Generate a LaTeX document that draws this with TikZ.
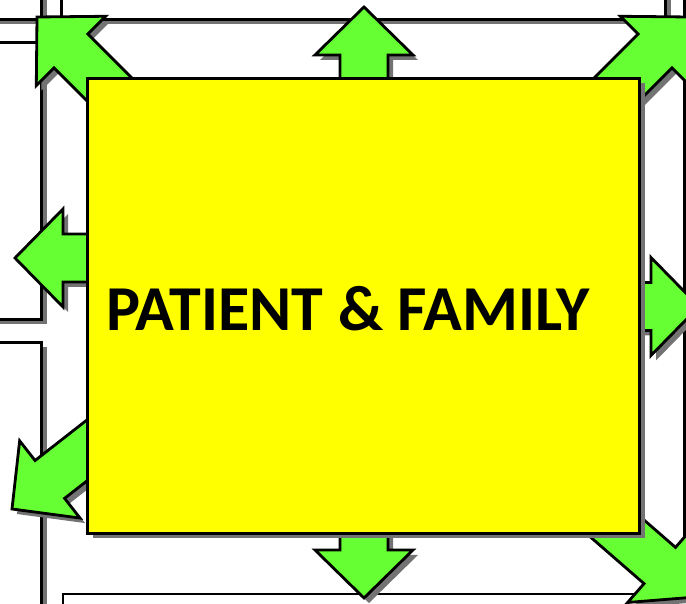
\documentclass[tikz,border=0pt]{standalone}
\usepackage{fontspec}
\setsansfont{Carlito}
\usepackage{tikz}
\usetikzlibrary{shadows}
\definecolor{arrgreen}{RGB}{102,255,51}
\definecolor{coreyellow}{RGB}{255,255,0}

\begin{document}
\begin{tikzpicture}[
  x=1pt, y=1pt,
  shade5/.style={drop shadow={shadow xshift=5pt, shadow yshift=-5pt, fill=black!55, opacity=1}},
  panel/.style={draw, fill=white, line width=2.8pt, shade5},
  core/.style={draw, fill=coreyellow, line width=3pt, minimum width=552pt, minimum height=455pt, inner sep=0pt, shade5},
  caption/.style={font=\sffamily\bfseries\fontsize{64pt}{72pt}\selectfont, inner sep=0pt},
  arrfill/.style={draw, fill=arrgreen, line width=2.8pt},
  arrshadow/.style={fill=black!55},
  blockarr/.pic={\path[pic actions] (0,0) -- (-48,49) -- (-48,24) -- (-130,24) -- (-130,-24) -- (-48,-24) -- (-48,-49) -- cycle;}
]
  \useasboundingbox (0,0) rectangle (686,604);

  \draw[panel] (-30,584.5) rectangle (41.5,634);
  \draw[panel] (61.5,584.5) rectangle (665.5,634);
  \draw[panel] (684.5,584.5) rectangle (740,634);
  \draw[panel] (-30,284.5) rectangle (41.5,561.5);
  \draw[panel] (-30,-36) rectangle (41.5,261.5);
  \draw[panel] (684.5,31) rectangle (740,561.5);
  \draw[panel] (63,-36) rectangle (665.5,10);

  \foreach \tx/\ty/\ang in {37/587/135, 364/597/90, 689/587/45, 15/346/180,
                            699/297.5/0, 12/95/218, 364/6/-90, 696/7/-41} {
    \pic[arrshadow, shift={(\tx+5,\ty-5)}, rotate=\ang] {blockarr};
    \pic[arrfill, shift={(\tx,\ty)}, rotate=\ang] {blockarr};
  }

  \node[core] (pf) at (363.5,298) {};
  \node[caption] (pflabel) at ([xshift=-15.5pt, yshift=-3pt]pf.center) {PATIENT \& FAMILY};
\end{tikzpicture}
\end{document}
